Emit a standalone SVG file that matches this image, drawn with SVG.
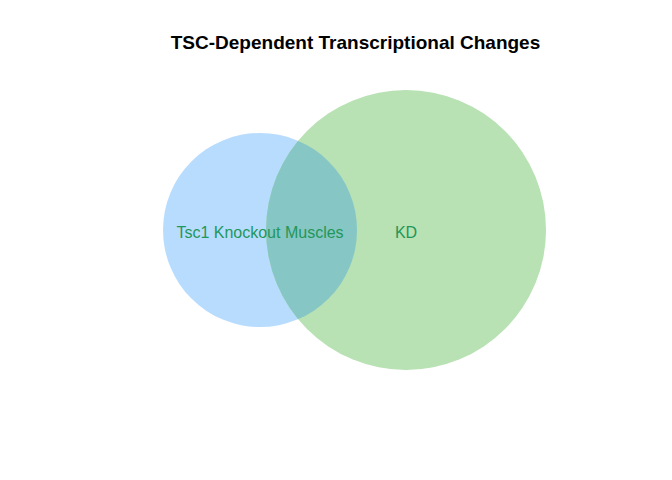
<svg xmlns="http://www.w3.org/2000/svg" width="672" height="480" viewBox="0 0 672 480">
<style>
.title{font-family:"Liberation Sans",Arial,sans-serif;font-weight:bold;font-size:19px;fill:#000}
.lbl{font-family:"Liberation Sans",Arial,sans-serif;font-size:16px;fill:#22975a}
</style>
<defs>
<clipPath id="clipA"><circle cx="260" cy="230" r="97"/></clipPath>
</defs>
<rect width="672" height="480" fill="#fff"/>
<text class="title" x="355.5" y="49" text-anchor="middle">TSC-Dependent Transcriptional Changes</text>
<g id="set-tsc1">
<circle cx="260" cy="230" r="97" fill="#b8dcfe"/>
</g>
<g id="set-kd">
<circle cx="406" cy="230" r="140" fill="#b8e1b4"/>
</g>
<g id="overlap">
<circle cx="406" cy="230" r="140" fill="#86c6c4" clip-path="url(#clipA)"/>
</g>
<g id="labels">
<text class="lbl" x="260" y="237.5" text-anchor="middle">Tsc1 Knockout Muscles</text>
<text class="lbl" x="406" y="237.5" text-anchor="middle">KD</text>
</g>
</svg>
